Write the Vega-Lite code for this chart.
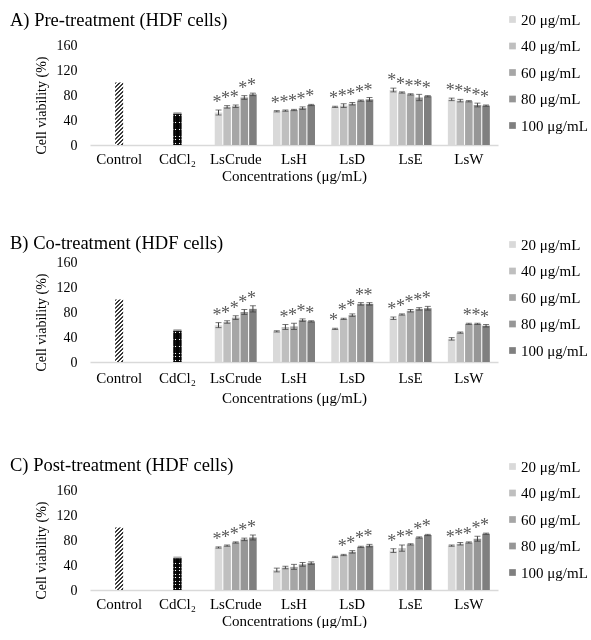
{
  "$schema": "https://vega.github.io/schema/vega-lite/v6.json",
  "padding": {"left": 10, "top": 10, "right": 0, "bottom": 0},
  "background": "white",
  "spacing": 50,
  "datasets": {
    "pre": [
      {"g": "Control", "c": null, "m": 100, "lo": null, "hi": null, "s": ""},
      {"g": "CdCl₂", "c": null, "m": 50, "lo": 49, "hi": 51, "s": ""},
      {"g": "LsCrude", "c": "20 μg/mL", "m": 52, "lo": 48, "hi": 56, "s": "*"},
      {"g": "LsCrude", "c": "40 μg/mL", "m": 61, "lo": 59, "hi": 63, "s": "*"},
      {"g": "LsCrude", "c": "60 μg/mL", "m": 62, "lo": 60, "hi": 64, "s": "*"},
      {"g": "LsCrude", "c": "80 μg/mL", "m": 76, "lo": 73, "hi": 79, "s": "*"},
      {"g": "LsCrude", "c": "100 μg/mL", "m": 81, "lo": 79, "hi": 83, "s": "*"},
      {"g": "LsH", "c": "20 μg/mL", "m": 54, "lo": 53, "hi": 55, "s": "*"},
      {"g": "LsH", "c": "40 μg/mL", "m": 55, "lo": 54, "hi": 56, "s": "*"},
      {"g": "LsH", "c": "60 μg/mL", "m": 56, "lo": 55, "hi": 57, "s": "*"},
      {"g": "LsH", "c": "80 μg/mL", "m": 59, "lo": 57, "hi": 61, "s": "*"},
      {"g": "LsH", "c": "100 μg/mL", "m": 64, "lo": 63, "hi": 65, "s": "*"},
      {"g": "LsD", "c": "20 μg/mL", "m": 61, "lo": 60, "hi": 62, "s": "*"},
      {"g": "LsD", "c": "40 μg/mL", "m": 63, "lo": 60, "hi": 66, "s": "*"},
      {"g": "LsD", "c": "60 μg/mL", "m": 66, "lo": 64, "hi": 68, "s": "*"},
      {"g": "LsD", "c": "80 μg/mL", "m": 71, "lo": 70, "hi": 72, "s": "*"},
      {"g": "LsD", "c": "100 μg/mL", "m": 73, "lo": 70, "hi": 76, "s": "*"},
      {"g": "LsE", "c": "20 μg/mL", "m": 88, "lo": 85, "hi": 91, "s": "*"},
      {"g": "LsE", "c": "40 μg/mL", "m": 84, "lo": 83, "hi": 85, "s": "*"},
      {"g": "LsE", "c": "60 μg/mL", "m": 81, "lo": 80, "hi": 82, "s": "*"},
      {"g": "LsE", "c": "80 μg/mL", "m": 76, "lo": 71, "hi": 81, "s": "*"},
      {"g": "LsE", "c": "100 μg/mL", "m": 78, "lo": 77, "hi": 79, "s": "*"},
      {"g": "LsW", "c": "20 μg/mL", "m": 73, "lo": 71, "hi": 75, "s": "*"},
      {"g": "LsW", "c": "40 μg/mL", "m": 71, "lo": 69, "hi": 73, "s": "*"},
      {"g": "LsW", "c": "60 μg/mL", "m": 70, "lo": 69, "hi": 71, "s": "*"},
      {"g": "LsW", "c": "80 μg/mL", "m": 64, "lo": 61, "hi": 67, "s": "*"},
      {"g": "LsW", "c": "100 μg/mL", "m": 63, "lo": 62, "hi": 64, "s": "*"}
    ],
    "co": [
      {"g": "Control", "c": null, "m": 100, "lo": null, "hi": null, "s": ""},
      {"g": "CdCl₂", "c": null, "m": 50, "lo": 49, "hi": 51, "s": ""},
      {"g": "LsCrude", "c": "20 μg/mL", "m": 59, "lo": 55, "hi": 63, "s": "*"},
      {"g": "LsCrude", "c": "40 μg/mL", "m": 64, "lo": 62, "hi": 66, "s": "*"},
      {"g": "LsCrude", "c": "60 μg/mL", "m": 71, "lo": 68, "hi": 74, "s": "*"},
      {"g": "LsCrude", "c": "80 μg/mL", "m": 80, "lo": 76, "hi": 84, "s": "*"},
      {"g": "LsCrude", "c": "100 μg/mL", "m": 85, "lo": 80, "hi": 90, "s": "*"},
      {"g": "LsH", "c": "20 μg/mL", "m": 49, "lo": 48, "hi": 50, "s": ""},
      {"g": "LsH", "c": "40 μg/mL", "m": 56, "lo": 52, "hi": 60, "s": "*"},
      {"g": "LsH", "c": "60 μg/mL", "m": 57, "lo": 52, "hi": 62, "s": "*"},
      {"g": "LsH", "c": "80 μg/mL", "m": 67, "lo": 65, "hi": 69, "s": "*"},
      {"g": "LsH", "c": "100 μg/mL", "m": 65, "lo": 64, "hi": 66, "s": "*"},
      {"g": "LsD", "c": "20 μg/mL", "m": 53, "lo": 52, "hi": 54, "s": "*"},
      {"g": "LsD", "c": "40 μg/mL", "m": 69, "lo": 68, "hi": 70, "s": "*"},
      {"g": "LsD", "c": "60 μg/mL", "m": 75, "lo": 73, "hi": 77, "s": "*"},
      {"g": "LsD", "c": "80 μg/mL", "m": 93, "lo": 91, "hi": 95, "s": "*"},
      {"g": "LsD", "c": "100 μg/mL", "m": 93, "lo": 91, "hi": 95, "s": "*"},
      {"g": "LsE", "c": "20 μg/mL", "m": 70, "lo": 68, "hi": 72, "s": "*"},
      {"g": "LsE", "c": "40 μg/mL", "m": 76, "lo": 75, "hi": 77, "s": "*"},
      {"g": "LsE", "c": "60 μg/mL", "m": 82, "lo": 80, "hi": 84, "s": "*"},
      {"g": "LsE", "c": "80 μg/mL", "m": 85, "lo": 83, "hi": 87, "s": "*"},
      {"g": "LsE", "c": "100 μg/mL", "m": 86, "lo": 83, "hi": 89, "s": "*"},
      {"g": "LsW", "c": "20 μg/mL", "m": 37, "lo": 35, "hi": 39, "s": ""},
      {"g": "LsW", "c": "40 μg/mL", "m": 47, "lo": 46, "hi": 48, "s": ""},
      {"g": "LsW", "c": "60 μg/mL", "m": 61, "lo": 60, "hi": 62, "s": "*"},
      {"g": "LsW", "c": "80 μg/mL", "m": 61, "lo": 60, "hi": 62, "s": "*"},
      {"g": "LsW", "c": "100 μg/mL", "m": 58, "lo": 56, "hi": 60, "s": "*"}
    ],
    "post": [
      {"g": "Control", "c": null, "m": 100, "lo": null, "hi": null, "s": ""},
      {"g": "CdCl₂", "c": null, "m": 51, "lo": 50, "hi": 52, "s": ""},
      {"g": "LsCrude", "c": "20 μg/mL", "m": 68, "lo": 67, "hi": 69, "s": "*"},
      {"g": "LsCrude", "c": "40 μg/mL", "m": 71, "lo": 70, "hi": 72, "s": "*"},
      {"g": "LsCrude", "c": "60 μg/mL", "m": 76, "lo": 75, "hi": 77, "s": "*"},
      {"g": "LsCrude", "c": "80 μg/mL", "m": 81, "lo": 79, "hi": 83, "s": "*"},
      {"g": "LsCrude", "c": "100 μg/mL", "m": 84, "lo": 80, "hi": 88, "s": "*"},
      {"g": "LsH", "c": "20 μg/mL", "m": 32, "lo": 29, "hi": 35, "s": ""},
      {"g": "LsH", "c": "40 μg/mL", "m": 36, "lo": 34, "hi": 38, "s": ""},
      {"g": "LsH", "c": "60 μg/mL", "m": 37, "lo": 33, "hi": 41, "s": ""},
      {"g": "LsH", "c": "80 μg/mL", "m": 41, "lo": 38, "hi": 44, "s": ""},
      {"g": "LsH", "c": "100 μg/mL", "m": 43, "lo": 41, "hi": 45, "s": ""},
      {"g": "LsD", "c": "20 μg/mL", "m": 53, "lo": 52, "hi": 54, "s": ""},
      {"g": "LsD", "c": "40 μg/mL", "m": 56, "lo": 55, "hi": 57, "s": "*"},
      {"g": "LsD", "c": "60 μg/mL", "m": 61, "lo": 59, "hi": 63, "s": "*"},
      {"g": "LsD", "c": "80 μg/mL", "m": 69, "lo": 68, "hi": 70, "s": "*"},
      {"g": "LsD", "c": "100 μg/mL", "m": 71, "lo": 69, "hi": 73, "s": "*"},
      {"g": "LsE", "c": "20 μg/mL", "m": 63, "lo": 60, "hi": 66, "s": "*"},
      {"g": "LsE", "c": "40 μg/mL", "m": 67, "lo": 62, "hi": 72, "s": "*"},
      {"g": "LsE", "c": "60 μg/mL", "m": 73, "lo": 72, "hi": 74, "s": "*"},
      {"g": "LsE", "c": "80 μg/mL", "m": 84, "lo": 83, "hi": 85, "s": "*"},
      {"g": "LsE", "c": "100 μg/mL", "m": 88, "lo": 87, "hi": 89, "s": "*"},
      {"g": "LsW", "c": "20 μg/mL", "m": 71, "lo": 70, "hi": 72, "s": "*"},
      {"g": "LsW", "c": "40 μg/mL", "m": 74, "lo": 72, "hi": 76, "s": "*"},
      {"g": "LsW", "c": "60 μg/mL", "m": 76, "lo": 75, "hi": 77, "s": "*"},
      {"g": "LsW", "c": "80 μg/mL", "m": 82, "lo": 78, "hi": 86, "s": "*"},
      {"g": "LsW", "c": "100 μg/mL", "m": 90, "lo": 89, "hi": 91, "s": "*"}
    ]
  },
  "vconcat": [
    {
      "width": 408, "height": 100,
      "data": {"name": "pre"},
      "title": {"text": "A) Pre-treatment (HDF cells)", "offset": -17},
      "encoding": {
        "x": {"field": "g", "type": "nominal", "sort": ["Control", "CdCl₂", "LsCrude", "LsH", "LsD", "LsE", "LsW"], "scale": {"paddingInner": 0.28, "paddingOuter": 0.14}, "title": "Concentrations (μg/mL)"}
      },
      "layer": [
        {
          "transform": [{"filter": "datum.c != null"}],
          "mark": {"type": "bar"},
          "encoding": {
            "y": {"field": "m", "type": "quantitative", "scale": {"domain": [0, 160]}, "axis": {"values": [0, 40, 80, 120, 160], "labelOverlap": false}, "title": "Cell viability (%)"},
            "xOffset": {"field": "c", "type": "nominal", "sort": ["20 μg/mL", "40 μg/mL", "60 μg/mL", "80 μg/mL", "100 μg/mL"], "scale": {"paddingInner": 0.12, "paddingOuter": 0}},
            "color": {"field": "c", "type": "nominal", "scale": {"domain": ["20 μg/mL", "40 μg/mL", "60 μg/mL", "80 μg/mL", "100 μg/mL"], "range": ["#d9d9d9", "#bfbfbf", "#a6a6a6", "#969696", "#7f7f7f"]}, "legend": {"title": null, "orient": "none", "legendX": 415, "legendY": -33}}
          }
        },
        {
          "transform": [{"filter": "datum.g == 'Control'"}],
          "mark": {"type": "bar", "width": 8, "fill": {"gradient": "linear", "x1": 0, "y1": 0, "x2": 0.142, "y2": 1.11, "stops": [
            {"offset": 0, "color": "#3a3a3a"}, {"offset": 0.025, "color": "#3a3a3a"}, {"offset": 0.025, "color": "#ffffff"}, {"offset": 0.0567, "color": "#ffffff"},
            {"offset": 0.0567, "color": "#3a3a3a"}, {"offset": 0.0817, "color": "#3a3a3a"}, {"offset": 0.0817, "color": "#ffffff"}, {"offset": 0.1134, "color": "#ffffff"},
            {"offset": 0.1134, "color": "#3a3a3a"}, {"offset": 0.1384, "color": "#3a3a3a"}, {"offset": 0.1384, "color": "#ffffff"}, {"offset": 0.1701, "color": "#ffffff"},
            {"offset": 0.1701, "color": "#3a3a3a"}, {"offset": 0.1951, "color": "#3a3a3a"}, {"offset": 0.1951, "color": "#ffffff"}, {"offset": 0.2268, "color": "#ffffff"},
            {"offset": 0.2268, "color": "#3a3a3a"}, {"offset": 0.2518, "color": "#3a3a3a"}, {"offset": 0.2518, "color": "#ffffff"}, {"offset": 0.2835, "color": "#ffffff"},
            {"offset": 0.2835, "color": "#3a3a3a"}, {"offset": 0.3085, "color": "#3a3a3a"}, {"offset": 0.3085, "color": "#ffffff"}, {"offset": 0.3402, "color": "#ffffff"},
            {"offset": 0.3402, "color": "#3a3a3a"}, {"offset": 0.3652, "color": "#3a3a3a"}, {"offset": 0.3652, "color": "#ffffff"}, {"offset": 0.3969, "color": "#ffffff"},
            {"offset": 0.3969, "color": "#3a3a3a"}, {"offset": 0.4219, "color": "#3a3a3a"}, {"offset": 0.4219, "color": "#ffffff"}, {"offset": 0.4536, "color": "#ffffff"},
            {"offset": 0.4536, "color": "#3a3a3a"}, {"offset": 0.4786, "color": "#3a3a3a"}, {"offset": 0.4786, "color": "#ffffff"}, {"offset": 0.5103, "color": "#ffffff"},
            {"offset": 0.5103, "color": "#3a3a3a"}, {"offset": 0.5353, "color": "#3a3a3a"}, {"offset": 0.5353, "color": "#ffffff"}, {"offset": 0.5670, "color": "#ffffff"},
            {"offset": 0.5670, "color": "#3a3a3a"}, {"offset": 0.5920, "color": "#3a3a3a"}, {"offset": 0.5920, "color": "#ffffff"}, {"offset": 0.6237, "color": "#ffffff"},
            {"offset": 0.6237, "color": "#3a3a3a"}, {"offset": 0.6487, "color": "#3a3a3a"}, {"offset": 0.6487, "color": "#ffffff"}, {"offset": 0.6804, "color": "#ffffff"},
            {"offset": 0.6804, "color": "#3a3a3a"}, {"offset": 0.7054, "color": "#3a3a3a"}, {"offset": 0.7054, "color": "#ffffff"}, {"offset": 0.7371, "color": "#ffffff"},
            {"offset": 0.7371, "color": "#3a3a3a"}, {"offset": 0.7621, "color": "#3a3a3a"}, {"offset": 0.7621, "color": "#ffffff"}, {"offset": 0.7938, "color": "#ffffff"},
            {"offset": 0.7938, "color": "#3a3a3a"}, {"offset": 0.8188, "color": "#3a3a3a"}, {"offset": 0.8188, "color": "#ffffff"}, {"offset": 0.8505, "color": "#ffffff"},
            {"offset": 0.8505, "color": "#3a3a3a"}, {"offset": 0.8755, "color": "#3a3a3a"}, {"offset": 0.8755, "color": "#ffffff"}, {"offset": 0.9072, "color": "#ffffff"},
            {"offset": 0.9072, "color": "#3a3a3a"}, {"offset": 0.9322, "color": "#3a3a3a"}, {"offset": 0.9322, "color": "#ffffff"}, {"offset": 0.9639, "color": "#ffffff"},
            {"offset": 0.9639, "color": "#3a3a3a"}, {"offset": 0.9889, "color": "#3a3a3a"}, {"offset": 0.9889, "color": "#ffffff"}, {"offset": 1, "color": "#ffffff"}
          ]}},
          "encoding": {"y": {"field": "m", "type": "quantitative", "axis": {"values": [0, 40, 80, 120, 160], "labelOverlap": false}, "title": "Cell viability (%)"}}
        },
        {
          "transform": [{"filter": "datum.g == 'CdCl₂'"}],
          "mark": {"type": "bar", "width": 8, "fill": {"gradient": "linear", "x1": 0, "y1": 0, "x2": 0, "y2": 1, "stops": [
            {"offset": 0, "color": "#141414"}, {"offset": 0.045, "color": "#141414"}, {"offset": 0.045, "color": "#ffffff"}, {"offset": 0.072, "color": "#ffffff"}, {"offset": 0.072, "color": "#141414"},
            {"offset": 0.1561, "color": "#141414"}, {"offset": 0.1561, "color": "#ffffff"}, {"offset": 0.1831, "color": "#ffffff"}, {"offset": 0.1831, "color": "#141414"},
            {"offset": 0.2672, "color": "#141414"}, {"offset": 0.2672, "color": "#ffffff"}, {"offset": 0.2942, "color": "#ffffff"}, {"offset": 0.2942, "color": "#141414"},
            {"offset": 0.3783, "color": "#141414"}, {"offset": 0.3783, "color": "#ffffff"}, {"offset": 0.4053, "color": "#ffffff"}, {"offset": 0.4053, "color": "#141414"},
            {"offset": 0.4894, "color": "#141414"}, {"offset": 0.4894, "color": "#ffffff"}, {"offset": 0.5164, "color": "#ffffff"}, {"offset": 0.5164, "color": "#141414"},
            {"offset": 0.6006, "color": "#141414"}, {"offset": 0.6006, "color": "#ffffff"}, {"offset": 0.6276, "color": "#ffffff"}, {"offset": 0.6276, "color": "#141414"},
            {"offset": 0.7117, "color": "#141414"}, {"offset": 0.7117, "color": "#ffffff"}, {"offset": 0.7387, "color": "#ffffff"}, {"offset": 0.7387, "color": "#141414"},
            {"offset": 0.8228, "color": "#141414"}, {"offset": 0.8228, "color": "#ffffff"}, {"offset": 0.8498, "color": "#ffffff"}, {"offset": 0.8498, "color": "#141414"},
            {"offset": 0.9339, "color": "#141414"}, {"offset": 0.9339, "color": "#ffffff"}, {"offset": 0.9609, "color": "#ffffff"}, {"offset": 0.9609, "color": "#141414"},
            {"offset": 1, "color": "#141414"}
          ]}},
          "encoding": {"y": {"field": "m", "type": "quantitative", "axis": {"values": [0, 40, 80, 120, 160], "labelOverlap": false}, "title": "Cell viability (%)"}}
        },
        {
          "transform": [{"filter": "datum.g == 'CdCl₂'"}],
          "mark": {"type": "bar", "width": 8, "blend": "multiply", "fill": {"gradient": "linear", "x1": 0, "y1": 0, "x2": 1, "y2": 0, "stops": [
            {"offset": 0, "color": "#141414"}, {"offset": 0.24, "color": "#141414"}, {"offset": 0.24, "color": "#ffffff"}, {"offset": 0.36, "color": "#ffffff"}, {"offset": 0.36, "color": "#141414"},
            {"offset": 0.64, "color": "#141414"}, {"offset": 0.64, "color": "#ffffff"}, {"offset": 0.76, "color": "#ffffff"}, {"offset": 0.76, "color": "#141414"}, {"offset": 1, "color": "#141414"}
          ]}},
          "encoding": {"y": {"field": "m", "type": "quantitative", "axis": {"values": [0, 40, 80, 120, 160], "labelOverlap": false}, "title": "Cell viability (%)"}}
        },
        {
          "transform": [{"filter": "datum.g == 'CdCl₂'"}],
          "mark": {"type": "tick", "size": 8, "thickness": 2, "color": "#8c8c8c"},
          "encoding": {"y": {"field": "hi", "type": "quantitative", "axis": {"values": [0, 40, 80, 120, 160], "labelOverlap": false}, "title": "Cell viability (%)"}}
        },
        {
          "transform": [{"filter": "datum.c != null"}],
          "mark": {"type": "rule", "color": "#404040", "strokeWidth": 1},
          "encoding": {
            "xOffset": {"field": "c", "type": "nominal", "sort": ["20 μg/mL", "40 μg/mL", "60 μg/mL", "80 μg/mL", "100 μg/mL"]},
            "y": {"field": "lo", "type": "quantitative", "axis": {"values": [0, 40, 80, 120, 160], "labelOverlap": false}, "title": "Cell viability (%)"}, "y2": {"field": "hi"}
          }
        },
        {
          "transform": [{"filter": "datum.c != null"}],
          "mark": {"type": "tick", "color": "#404040", "size": 6, "thickness": 1},
          "encoding": {
            "xOffset": {"field": "c", "type": "nominal", "sort": ["20 μg/mL", "40 μg/mL", "60 μg/mL", "80 μg/mL", "100 μg/mL"]},
            "y": {"field": "hi", "type": "quantitative", "axis": {"values": [0, 40, 80, 120, 160], "labelOverlap": false}, "title": "Cell viability (%)"}
          }
        },
        {
          "transform": [{"filter": "datum.c != null"}],
          "mark": {"type": "tick", "color": "#404040", "size": 6, "thickness": 1},
          "encoding": {
            "xOffset": {"field": "c", "type": "nominal", "sort": ["20 μg/mL", "40 μg/mL", "60 μg/mL", "80 μg/mL", "100 μg/mL"]},
            "y": {"field": "lo", "type": "quantitative", "axis": {"values": [0, 40, 80, 120, 160], "labelOverlap": false}, "title": "Cell viability (%)"}
          }
        },
        {
          "transform": [{"filter": "datum.c != null"}],
          "mark": {"type": "text", "baseline": "alphabetic", "dy": -2, "dx": -1.5, "fontSize": 18, "color": "#595959", "font": "Liberation Serif"},
          "encoding": {
            "xOffset": {"field": "c", "type": "nominal", "sort": ["20 μg/mL", "40 μg/mL", "60 μg/mL", "80 μg/mL", "100 μg/mL"]},
            "y": {"field": "hi", "type": "quantitative", "axis": {"values": [0, 40, 80, 120, 160], "labelOverlap": false}, "title": "Cell viability (%)"},
            "text": {"field": "s"}
          }
        }
      ]
    },
    {
      "width": 408, "height": 100,
      "data": {"name": "co"},
      "title": {"text": "B) Co-treatment (HDF cells)", "offset": -15},
      "encoding": {
        "x": {"field": "g", "type": "nominal", "sort": ["Control", "CdCl₂", "LsCrude", "LsH", "LsD", "LsE", "LsW"], "scale": {"paddingInner": 0.28, "paddingOuter": 0.14}, "axis": {"labelPadding": 8, "titlePadding": 5}, "title": "Concentrations (μg/mL)"}
      },
      "layer": [
        {
          "transform": [{"filter": "datum.c != null"}],
          "mark": {"type": "bar"},
          "encoding": {
            "y": {"field": "m", "type": "quantitative", "scale": {"domain": [0, 160]}, "axis": {"values": [0, 40, 80, 120, 160], "labelOverlap": false}, "title": "Cell viability (%)"},
            "xOffset": {"field": "c", "type": "nominal", "sort": ["20 μg/mL", "40 μg/mL", "60 μg/mL", "80 μg/mL", "100 μg/mL"], "scale": {"paddingInner": 0.12, "paddingOuter": 0}},
            "color": {"field": "c", "type": "nominal", "scale": {"domain": ["20 μg/mL", "40 μg/mL", "60 μg/mL", "80 μg/mL", "100 μg/mL"], "range": ["#d9d9d9", "#bfbfbf", "#a6a6a6", "#969696", "#7f7f7f"]}, "legend": {"title": null, "orient": "none", "legendX": 415, "legendY": -25}}
          }
        },
        {
          "transform": [{"filter": "datum.g == 'Control'"}],
          "mark": {"type": "bar", "width": 8, "fill": {"gradient": "linear", "x1": 0, "y1": 0, "x2": 0.142, "y2": 1.11, "stops": [
            {"offset": 0, "color": "#3a3a3a"}, {"offset": 0.025, "color": "#3a3a3a"}, {"offset": 0.025, "color": "#ffffff"}, {"offset": 0.0567, "color": "#ffffff"},
            {"offset": 0.0567, "color": "#3a3a3a"}, {"offset": 0.0817, "color": "#3a3a3a"}, {"offset": 0.0817, "color": "#ffffff"}, {"offset": 0.1134, "color": "#ffffff"},
            {"offset": 0.1134, "color": "#3a3a3a"}, {"offset": 0.1384, "color": "#3a3a3a"}, {"offset": 0.1384, "color": "#ffffff"}, {"offset": 0.1701, "color": "#ffffff"},
            {"offset": 0.1701, "color": "#3a3a3a"}, {"offset": 0.1951, "color": "#3a3a3a"}, {"offset": 0.1951, "color": "#ffffff"}, {"offset": 0.2268, "color": "#ffffff"},
            {"offset": 0.2268, "color": "#3a3a3a"}, {"offset": 0.2518, "color": "#3a3a3a"}, {"offset": 0.2518, "color": "#ffffff"}, {"offset": 0.2835, "color": "#ffffff"},
            {"offset": 0.2835, "color": "#3a3a3a"}, {"offset": 0.3085, "color": "#3a3a3a"}, {"offset": 0.3085, "color": "#ffffff"}, {"offset": 0.3402, "color": "#ffffff"},
            {"offset": 0.3402, "color": "#3a3a3a"}, {"offset": 0.3652, "color": "#3a3a3a"}, {"offset": 0.3652, "color": "#ffffff"}, {"offset": 0.3969, "color": "#ffffff"},
            {"offset": 0.3969, "color": "#3a3a3a"}, {"offset": 0.4219, "color": "#3a3a3a"}, {"offset": 0.4219, "color": "#ffffff"}, {"offset": 0.4536, "color": "#ffffff"},
            {"offset": 0.4536, "color": "#3a3a3a"}, {"offset": 0.4786, "color": "#3a3a3a"}, {"offset": 0.4786, "color": "#ffffff"}, {"offset": 0.5103, "color": "#ffffff"},
            {"offset": 0.5103, "color": "#3a3a3a"}, {"offset": 0.5353, "color": "#3a3a3a"}, {"offset": 0.5353, "color": "#ffffff"}, {"offset": 0.5670, "color": "#ffffff"},
            {"offset": 0.5670, "color": "#3a3a3a"}, {"offset": 0.5920, "color": "#3a3a3a"}, {"offset": 0.5920, "color": "#ffffff"}, {"offset": 0.6237, "color": "#ffffff"},
            {"offset": 0.6237, "color": "#3a3a3a"}, {"offset": 0.6487, "color": "#3a3a3a"}, {"offset": 0.6487, "color": "#ffffff"}, {"offset": 0.6804, "color": "#ffffff"},
            {"offset": 0.6804, "color": "#3a3a3a"}, {"offset": 0.7054, "color": "#3a3a3a"}, {"offset": 0.7054, "color": "#ffffff"}, {"offset": 0.7371, "color": "#ffffff"},
            {"offset": 0.7371, "color": "#3a3a3a"}, {"offset": 0.7621, "color": "#3a3a3a"}, {"offset": 0.7621, "color": "#ffffff"}, {"offset": 0.7938, "color": "#ffffff"},
            {"offset": 0.7938, "color": "#3a3a3a"}, {"offset": 0.8188, "color": "#3a3a3a"}, {"offset": 0.8188, "color": "#ffffff"}, {"offset": 0.8505, "color": "#ffffff"},
            {"offset": 0.8505, "color": "#3a3a3a"}, {"offset": 0.8755, "color": "#3a3a3a"}, {"offset": 0.8755, "color": "#ffffff"}, {"offset": 0.9072, "color": "#ffffff"},
            {"offset": 0.9072, "color": "#3a3a3a"}, {"offset": 0.9322, "color": "#3a3a3a"}, {"offset": 0.9322, "color": "#ffffff"}, {"offset": 0.9639, "color": "#ffffff"},
            {"offset": 0.9639, "color": "#3a3a3a"}, {"offset": 0.9889, "color": "#3a3a3a"}, {"offset": 0.9889, "color": "#ffffff"}, {"offset": 1, "color": "#ffffff"}
          ]}},
          "encoding": {"y": {"field": "m", "type": "quantitative", "axis": {"values": [0, 40, 80, 120, 160], "labelOverlap": false}, "title": "Cell viability (%)"}}
        },
        {
          "transform": [{"filter": "datum.g == 'CdCl₂'"}],
          "mark": {"type": "bar", "width": 8, "fill": {"gradient": "linear", "x1": 0, "y1": 0, "x2": 0, "y2": 1, "stops": [
            {"offset": 0, "color": "#141414"}, {"offset": 0.045, "color": "#141414"}, {"offset": 0.045, "color": "#ffffff"}, {"offset": 0.072, "color": "#ffffff"}, {"offset": 0.072, "color": "#141414"},
            {"offset": 0.1561, "color": "#141414"}, {"offset": 0.1561, "color": "#ffffff"}, {"offset": 0.1831, "color": "#ffffff"}, {"offset": 0.1831, "color": "#141414"},
            {"offset": 0.2672, "color": "#141414"}, {"offset": 0.2672, "color": "#ffffff"}, {"offset": 0.2942, "color": "#ffffff"}, {"offset": 0.2942, "color": "#141414"},
            {"offset": 0.3783, "color": "#141414"}, {"offset": 0.3783, "color": "#ffffff"}, {"offset": 0.4053, "color": "#ffffff"}, {"offset": 0.4053, "color": "#141414"},
            {"offset": 0.4894, "color": "#141414"}, {"offset": 0.4894, "color": "#ffffff"}, {"offset": 0.5164, "color": "#ffffff"}, {"offset": 0.5164, "color": "#141414"},
            {"offset": 0.6006, "color": "#141414"}, {"offset": 0.6006, "color": "#ffffff"}, {"offset": 0.6276, "color": "#ffffff"}, {"offset": 0.6276, "color": "#141414"},
            {"offset": 0.7117, "color": "#141414"}, {"offset": 0.7117, "color": "#ffffff"}, {"offset": 0.7387, "color": "#ffffff"}, {"offset": 0.7387, "color": "#141414"},
            {"offset": 0.8228, "color": "#141414"}, {"offset": 0.8228, "color": "#ffffff"}, {"offset": 0.8498, "color": "#ffffff"}, {"offset": 0.8498, "color": "#141414"},
            {"offset": 0.9339, "color": "#141414"}, {"offset": 0.9339, "color": "#ffffff"}, {"offset": 0.9609, "color": "#ffffff"}, {"offset": 0.9609, "color": "#141414"},
            {"offset": 1, "color": "#141414"}
          ]}},
          "encoding": {"y": {"field": "m", "type": "quantitative", "axis": {"values": [0, 40, 80, 120, 160], "labelOverlap": false}, "title": "Cell viability (%)"}}
        },
        {
          "transform": [{"filter": "datum.g == 'CdCl₂'"}],
          "mark": {"type": "bar", "width": 8, "blend": "multiply", "fill": {"gradient": "linear", "x1": 0, "y1": 0, "x2": 1, "y2": 0, "stops": [
            {"offset": 0, "color": "#141414"}, {"offset": 0.24, "color": "#141414"}, {"offset": 0.24, "color": "#ffffff"}, {"offset": 0.36, "color": "#ffffff"}, {"offset": 0.36, "color": "#141414"},
            {"offset": 0.64, "color": "#141414"}, {"offset": 0.64, "color": "#ffffff"}, {"offset": 0.76, "color": "#ffffff"}, {"offset": 0.76, "color": "#141414"}, {"offset": 1, "color": "#141414"}
          ]}},
          "encoding": {"y": {"field": "m", "type": "quantitative", "axis": {"values": [0, 40, 80, 120, 160], "labelOverlap": false}, "title": "Cell viability (%)"}}
        },
        {
          "transform": [{"filter": "datum.g == 'CdCl₂'"}],
          "mark": {"type": "tick", "size": 8, "thickness": 2, "color": "#8c8c8c"},
          "encoding": {"y": {"field": "hi", "type": "quantitative", "axis": {"values": [0, 40, 80, 120, 160], "labelOverlap": false}, "title": "Cell viability (%)"}}
        },
        {
          "transform": [{"filter": "datum.c != null"}],
          "mark": {"type": "rule", "color": "#404040", "strokeWidth": 1},
          "encoding": {
            "xOffset": {"field": "c", "type": "nominal", "sort": ["20 μg/mL", "40 μg/mL", "60 μg/mL", "80 μg/mL", "100 μg/mL"]},
            "y": {"field": "lo", "type": "quantitative", "axis": {"values": [0, 40, 80, 120, 160], "labelOverlap": false}, "title": "Cell viability (%)"}, "y2": {"field": "hi"}
          }
        },
        {
          "transform": [{"filter": "datum.c != null"}],
          "mark": {"type": "tick", "color": "#404040", "size": 6, "thickness": 1},
          "encoding": {
            "xOffset": {"field": "c", "type": "nominal", "sort": ["20 μg/mL", "40 μg/mL", "60 μg/mL", "80 μg/mL", "100 μg/mL"]},
            "y": {"field": "hi", "type": "quantitative", "axis": {"values": [0, 40, 80, 120, 160], "labelOverlap": false}, "title": "Cell viability (%)"}
          }
        },
        {
          "transform": [{"filter": "datum.c != null"}],
          "mark": {"type": "tick", "color": "#404040", "size": 6, "thickness": 1},
          "encoding": {
            "xOffset": {"field": "c", "type": "nominal", "sort": ["20 μg/mL", "40 μg/mL", "60 μg/mL", "80 μg/mL", "100 μg/mL"]},
            "y": {"field": "lo", "type": "quantitative", "axis": {"values": [0, 40, 80, 120, 160], "labelOverlap": false}, "title": "Cell viability (%)"}
          }
        },
        {
          "transform": [{"filter": "datum.c != null"}],
          "mark": {"type": "text", "baseline": "alphabetic", "dy": -2, "dx": -1.5, "fontSize": 18, "color": "#595959", "font": "Liberation Serif"},
          "encoding": {
            "xOffset": {"field": "c", "type": "nominal", "sort": ["20 μg/mL", "40 μg/mL", "60 μg/mL", "80 μg/mL", "100 μg/mL"]},
            "y": {"field": "hi", "type": "quantitative", "axis": {"values": [0, 40, 80, 120, 160], "labelOverlap": false}, "title": "Cell viability (%)"},
            "text": {"field": "s"}
          }
        }
      ]
    },
    {
      "width": 408, "height": 100,
      "data": {"name": "post"},
      "title": {"text": "C) Post-treatment (HDF cells)", "offset": -15},
      "encoding": {
        "x": {"field": "g", "type": "nominal", "sort": ["Control", "CdCl₂", "LsCrude", "LsH", "LsD", "LsE", "LsW"], "scale": {"paddingInner": 0.28, "paddingOuter": 0.14}, "title": "Concentrations (μg/mL)"}
      },
      "layer": [
        {
          "transform": [{"filter": "datum.c != null"}],
          "mark": {"type": "bar"},
          "encoding": {
            "y": {"field": "m", "type": "quantitative", "scale": {"domain": [0, 160]}, "axis": {"values": [0, 40, 80, 120, 160], "labelOverlap": false}, "title": "Cell viability (%)"},
            "xOffset": {"field": "c", "type": "nominal", "sort": ["20 μg/mL", "40 μg/mL", "60 μg/mL", "80 μg/mL", "100 μg/mL"], "scale": {"paddingInner": 0.12, "paddingOuter": 0}},
            "color": {"field": "c", "type": "nominal", "scale": {"domain": ["20 μg/mL", "40 μg/mL", "60 μg/mL", "80 μg/mL", "100 μg/mL"], "range": ["#d9d9d9", "#bfbfbf", "#a6a6a6", "#969696", "#7f7f7f"]}, "legend": {"title": null, "orient": "none", "legendX": 415, "legendY": -31}}
          }
        },
        {
          "transform": [{"filter": "datum.g == 'Control'"}],
          "mark": {"type": "bar", "width": 8, "fill": {"gradient": "linear", "x1": 0, "y1": 0, "x2": 0.142, "y2": 1.11, "stops": [
            {"offset": 0, "color": "#3a3a3a"}, {"offset": 0.025, "color": "#3a3a3a"}, {"offset": 0.025, "color": "#ffffff"}, {"offset": 0.0567, "color": "#ffffff"},
            {"offset": 0.0567, "color": "#3a3a3a"}, {"offset": 0.0817, "color": "#3a3a3a"}, {"offset": 0.0817, "color": "#ffffff"}, {"offset": 0.1134, "color": "#ffffff"},
            {"offset": 0.1134, "color": "#3a3a3a"}, {"offset": 0.1384, "color": "#3a3a3a"}, {"offset": 0.1384, "color": "#ffffff"}, {"offset": 0.1701, "color": "#ffffff"},
            {"offset": 0.1701, "color": "#3a3a3a"}, {"offset": 0.1951, "color": "#3a3a3a"}, {"offset": 0.1951, "color": "#ffffff"}, {"offset": 0.2268, "color": "#ffffff"},
            {"offset": 0.2268, "color": "#3a3a3a"}, {"offset": 0.2518, "color": "#3a3a3a"}, {"offset": 0.2518, "color": "#ffffff"}, {"offset": 0.2835, "color": "#ffffff"},
            {"offset": 0.2835, "color": "#3a3a3a"}, {"offset": 0.3085, "color": "#3a3a3a"}, {"offset": 0.3085, "color": "#ffffff"}, {"offset": 0.3402, "color": "#ffffff"},
            {"offset": 0.3402, "color": "#3a3a3a"}, {"offset": 0.3652, "color": "#3a3a3a"}, {"offset": 0.3652, "color": "#ffffff"}, {"offset": 0.3969, "color": "#ffffff"},
            {"offset": 0.3969, "color": "#3a3a3a"}, {"offset": 0.4219, "color": "#3a3a3a"}, {"offset": 0.4219, "color": "#ffffff"}, {"offset": 0.4536, "color": "#ffffff"},
            {"offset": 0.4536, "color": "#3a3a3a"}, {"offset": 0.4786, "color": "#3a3a3a"}, {"offset": 0.4786, "color": "#ffffff"}, {"offset": 0.5103, "color": "#ffffff"},
            {"offset": 0.5103, "color": "#3a3a3a"}, {"offset": 0.5353, "color": "#3a3a3a"}, {"offset": 0.5353, "color": "#ffffff"}, {"offset": 0.5670, "color": "#ffffff"},
            {"offset": 0.5670, "color": "#3a3a3a"}, {"offset": 0.5920, "color": "#3a3a3a"}, {"offset": 0.5920, "color": "#ffffff"}, {"offset": 0.6237, "color": "#ffffff"},
            {"offset": 0.6237, "color": "#3a3a3a"}, {"offset": 0.6487, "color": "#3a3a3a"}, {"offset": 0.6487, "color": "#ffffff"}, {"offset": 0.6804, "color": "#ffffff"},
            {"offset": 0.6804, "color": "#3a3a3a"}, {"offset": 0.7054, "color": "#3a3a3a"}, {"offset": 0.7054, "color": "#ffffff"}, {"offset": 0.7371, "color": "#ffffff"},
            {"offset": 0.7371, "color": "#3a3a3a"}, {"offset": 0.7621, "color": "#3a3a3a"}, {"offset": 0.7621, "color": "#ffffff"}, {"offset": 0.7938, "color": "#ffffff"},
            {"offset": 0.7938, "color": "#3a3a3a"}, {"offset": 0.8188, "color": "#3a3a3a"}, {"offset": 0.8188, "color": "#ffffff"}, {"offset": 0.8505, "color": "#ffffff"},
            {"offset": 0.8505, "color": "#3a3a3a"}, {"offset": 0.8755, "color": "#3a3a3a"}, {"offset": 0.8755, "color": "#ffffff"}, {"offset": 0.9072, "color": "#ffffff"},
            {"offset": 0.9072, "color": "#3a3a3a"}, {"offset": 0.9322, "color": "#3a3a3a"}, {"offset": 0.9322, "color": "#ffffff"}, {"offset": 0.9639, "color": "#ffffff"},
            {"offset": 0.9639, "color": "#3a3a3a"}, {"offset": 0.9889, "color": "#3a3a3a"}, {"offset": 0.9889, "color": "#ffffff"}, {"offset": 1, "color": "#ffffff"}
          ]}},
          "encoding": {"y": {"field": "m", "type": "quantitative", "axis": {"values": [0, 40, 80, 120, 160], "labelOverlap": false}, "title": "Cell viability (%)"}}
        },
        {
          "transform": [{"filter": "datum.g == 'CdCl₂'"}],
          "mark": {"type": "bar", "width": 8, "fill": {"gradient": "linear", "x1": 0, "y1": 0, "x2": 0, "y2": 1, "stops": [
            {"offset": 0, "color": "#141414"}, {"offset": 0.045, "color": "#141414"}, {"offset": 0.045, "color": "#ffffff"}, {"offset": 0.072, "color": "#ffffff"}, {"offset": 0.072, "color": "#141414"},
            {"offset": 0.1561, "color": "#141414"}, {"offset": 0.1561, "color": "#ffffff"}, {"offset": 0.1831, "color": "#ffffff"}, {"offset": 0.1831, "color": "#141414"},
            {"offset": 0.2672, "color": "#141414"}, {"offset": 0.2672, "color": "#ffffff"}, {"offset": 0.2942, "color": "#ffffff"}, {"offset": 0.2942, "color": "#141414"},
            {"offset": 0.3783, "color": "#141414"}, {"offset": 0.3783, "color": "#ffffff"}, {"offset": 0.4053, "color": "#ffffff"}, {"offset": 0.4053, "color": "#141414"},
            {"offset": 0.4894, "color": "#141414"}, {"offset": 0.4894, "color": "#ffffff"}, {"offset": 0.5164, "color": "#ffffff"}, {"offset": 0.5164, "color": "#141414"},
            {"offset": 0.6006, "color": "#141414"}, {"offset": 0.6006, "color": "#ffffff"}, {"offset": 0.6276, "color": "#ffffff"}, {"offset": 0.6276, "color": "#141414"},
            {"offset": 0.7117, "color": "#141414"}, {"offset": 0.7117, "color": "#ffffff"}, {"offset": 0.7387, "color": "#ffffff"}, {"offset": 0.7387, "color": "#141414"},
            {"offset": 0.8228, "color": "#141414"}, {"offset": 0.8228, "color": "#ffffff"}, {"offset": 0.8498, "color": "#ffffff"}, {"offset": 0.8498, "color": "#141414"},
            {"offset": 0.9339, "color": "#141414"}, {"offset": 0.9339, "color": "#ffffff"}, {"offset": 0.9609, "color": "#ffffff"}, {"offset": 0.9609, "color": "#141414"},
            {"offset": 1, "color": "#141414"}
          ]}},
          "encoding": {"y": {"field": "m", "type": "quantitative", "axis": {"values": [0, 40, 80, 120, 160], "labelOverlap": false}, "title": "Cell viability (%)"}}
        },
        {
          "transform": [{"filter": "datum.g == 'CdCl₂'"}],
          "mark": {"type": "bar", "width": 8, "blend": "multiply", "fill": {"gradient": "linear", "x1": 0, "y1": 0, "x2": 1, "y2": 0, "stops": [
            {"offset": 0, "color": "#141414"}, {"offset": 0.24, "color": "#141414"}, {"offset": 0.24, "color": "#ffffff"}, {"offset": 0.36, "color": "#ffffff"}, {"offset": 0.36, "color": "#141414"},
            {"offset": 0.64, "color": "#141414"}, {"offset": 0.64, "color": "#ffffff"}, {"offset": 0.76, "color": "#ffffff"}, {"offset": 0.76, "color": "#141414"}, {"offset": 1, "color": "#141414"}
          ]}},
          "encoding": {"y": {"field": "m", "type": "quantitative", "axis": {"values": [0, 40, 80, 120, 160], "labelOverlap": false}, "title": "Cell viability (%)"}}
        },
        {
          "transform": [{"filter": "datum.g == 'CdCl₂'"}],
          "mark": {"type": "tick", "size": 8, "thickness": 2, "color": "#8c8c8c"},
          "encoding": {"y": {"field": "hi", "type": "quantitative", "axis": {"values": [0, 40, 80, 120, 160], "labelOverlap": false}, "title": "Cell viability (%)"}}
        },
        {
          "transform": [{"filter": "datum.c != null"}],
          "mark": {"type": "rule", "color": "#404040", "strokeWidth": 1},
          "encoding": {
            "xOffset": {"field": "c", "type": "nominal", "sort": ["20 μg/mL", "40 μg/mL", "60 μg/mL", "80 μg/mL", "100 μg/mL"]},
            "y": {"field": "lo", "type": "quantitative", "axis": {"values": [0, 40, 80, 120, 160], "labelOverlap": false}, "title": "Cell viability (%)"}, "y2": {"field": "hi"}
          }
        },
        {
          "transform": [{"filter": "datum.c != null"}],
          "mark": {"type": "tick", "color": "#404040", "size": 6, "thickness": 1},
          "encoding": {
            "xOffset": {"field": "c", "type": "nominal", "sort": ["20 μg/mL", "40 μg/mL", "60 μg/mL", "80 μg/mL", "100 μg/mL"]},
            "y": {"field": "hi", "type": "quantitative", "axis": {"values": [0, 40, 80, 120, 160], "labelOverlap": false}, "title": "Cell viability (%)"}
          }
        },
        {
          "transform": [{"filter": "datum.c != null"}],
          "mark": {"type": "tick", "color": "#404040", "size": 6, "thickness": 1},
          "encoding": {
            "xOffset": {"field": "c", "type": "nominal", "sort": ["20 μg/mL", "40 μg/mL", "60 μg/mL", "80 μg/mL", "100 μg/mL"]},
            "y": {"field": "lo", "type": "quantitative", "axis": {"values": [0, 40, 80, 120, 160], "labelOverlap": false}, "title": "Cell viability (%)"}
          }
        },
        {
          "transform": [{"filter": "datum.c != null"}],
          "mark": {"type": "text", "baseline": "alphabetic", "dy": -2, "dx": -1.5, "fontSize": 18, "color": "#595959", "font": "Liberation Serif"},
          "encoding": {
            "xOffset": {"field": "c", "type": "nominal", "sort": ["20 μg/mL", "40 μg/mL", "60 μg/mL", "80 μg/mL", "100 μg/mL"]},
            "y": {"field": "hi", "type": "quantitative", "axis": {"values": [0, 40, 80, 120, 160], "labelOverlap": false}, "title": "Cell viability (%)"},
            "text": {"field": "s"}
          }
        }
      ]
    }
  ],
  "resolve": {"scale": {"color": "independent"}, "legend": {"color": "independent"}},
  "config": {
    "font": "Liberation Serif",
    "view": {"stroke": null},
    "axis": {"grid": false, "ticks": false, "labelColor": "#000000", "titleColor": "#000000", "labelFont": "Liberation Serif", "titleFont": "Liberation Serif", "titleFontWeight": "normal"},
    "axisX": {"domainColor": "#d9d9d9", "domainWidth": 1.5, "labelAngle": 0, "labelFontSize": 15, "labelPadding": 6, "titleFontSize": 15, "titlePadding": 2},
    "axisY": {"domain": false, "labelFontSize": 14, "labelPadding": 13, "labelOverlap": false, "titleFontSize": 14, "titlePadding": 8, "titleY": 60},
    "legend": {"symbolType": "square", "symbolSize": 45, "symbolStrokeWidth": 0, "labelFontSize": 15, "labelFont": "Liberation Serif", "labelColor": "#000000", "rowPadding": 10.5, "labelOffset": 1, "padding": 0},
    "title": {"anchor": "start", "frame": "group", "fontSize": 18.5, "fontWeight": "normal", "font": "Liberation Serif", "color": "#000000", "dx": -80}
  }
}
